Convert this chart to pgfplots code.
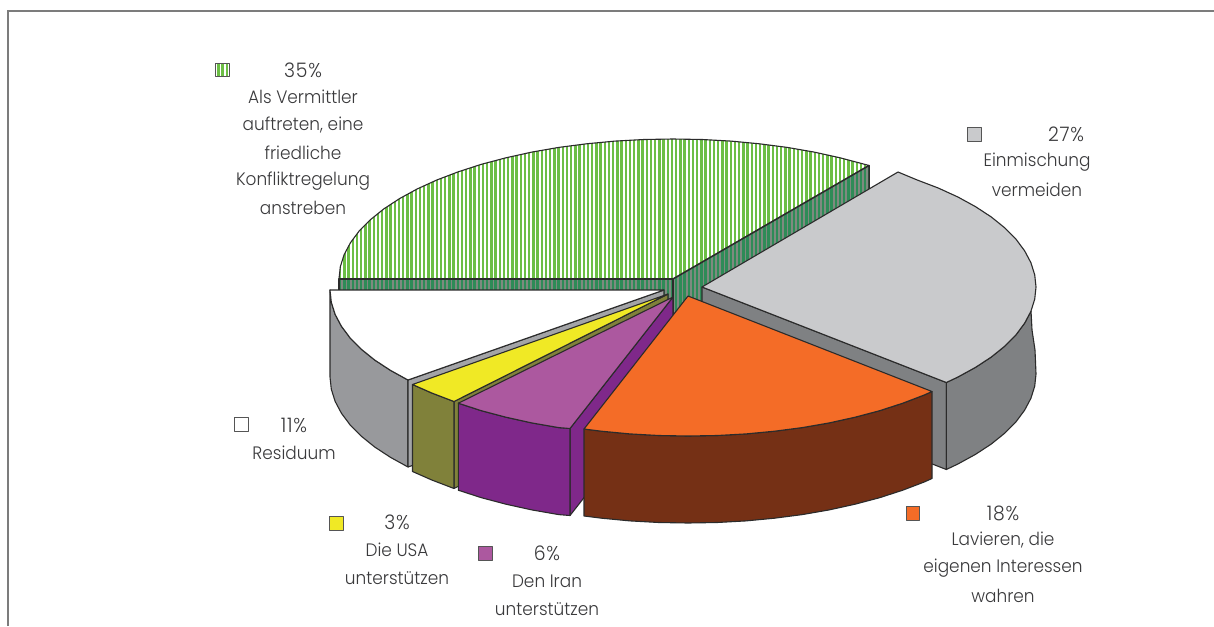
\documentclass[border=0pt]{standalone}
\usepackage{pgfplots}
\pgfplotsset{compat=1.18}
\usetikzlibrary{patterns.meta}
\usepackage{fontspec}
\setmainfont{Poppins}[UprightFont=* Light,FakeStretch=0.94]
\definecolor{edge}{HTML}{2B2B2B}
\definecolor{txt}{HTML}{3A3A3C}
\definecolor{frame}{HTML}{7C7C7C}
\definecolor{key}{HTML}{555555}
\definecolor{gtop}{HTML}{C9CACC}
\definecolor{gside}{HTML}{7F8183}
\definecolor{wside}{HTML}{98999C}
\definecolor{wwall}{HTML}{A3A4A7}
\definecolor{otop}{HTML}{F46C27}
\definecolor{oside}{HTML}{753015}
\definecolor{ptop}{HTML}{AC589F}
\definecolor{pside}{HTML}{7F288A}
\definecolor{ytop}{HTML}{F0E925}
\definecolor{yside}{HTML}{80813A}
\definecolor{grn}{HTML}{6CBE45}
\definecolor{dgrn}{HTML}{2E8B57}
\definecolor{dgrnb}{HTML}{7F8A80}
\tikzset{
 lab/.style={font=\fontsize{18}{20}\selectfont,text=txt,inner sep=0pt,anchor=center},
 pct/.style={font=\fontsize{20}{22}\selectfont\addfontfeature{LetterSpace=4},text=txt,inner sep=0pt,anchor=center},
 grnpat/.style={pattern={Lines[angle=90,distance=4.2pt,line width=2.4pt]},pattern color=grn},
 dgrnpat/.style={pattern={Lines[angle=90,distance=4.2pt,line width=2.3pt]},pattern color=dgrn}
}
\begin{document}
\begin{tikzpicture}
\begin{axis}[
  scale only axis,width=1214pt,height=626pt,
  xmin=0,xmax=1214,ymin=0,ymax=626,y dir=reverse,
  hide axis,no markers,
  every axis plot/.append style={line width=1.1pt,line join=round,draw=edge,solid},
]
% page extent
\addplot[fill=white,draw=none] coordinates {(0,0)(1214,0)(1214,626)(0,626)} -- cycle;
% frame
\addplot[draw=frame,line width=2pt,line join=miter] coordinates {(8,626)(8,11)(1214,11)};
% green top
\addplot[fill=white,draw=none] coordinates {(339,279)(340.3,266.8)(344.1,254.7)(350.4,242.8)(359.1,231.1)(370.3,219.8)(383.7,209)(399.4,198.7)(417.1,189)(436.8,180)(458.3,171.8)(481.4,164.3)(506,157.8)(531.8,152.1)(558.8,147.4)(586.6,143.8)(615,141.1)(643.9,139.5)(673,139)(702.1,139.5)(731,141.1)(759.4,143.8)(787.2,147.4)(814.2,152.1)(840,157.8)(864.6,164.3)(869,165.5)(673,279)} -- cycle;
\addplot[grnpat,draw=edge] coordinates {(339,279)(340.3,266.8)(344.1,254.7)(350.4,242.8)(359.1,231.1)(370.3,219.8)(383.7,209)(399.4,198.7)(417.1,189)(436.8,180)(458.3,171.8)(481.4,164.3)(506,157.8)(531.8,152.1)(558.8,147.4)(586.6,143.8)(615,141.1)(643.9,139.5)(673,139)(702.1,139.5)(731,141.1)(759.4,143.8)(787.2,147.4)(814.2,152.1)(840,157.8)(864.6,164.3)(869,165.5)(673,279)} -- cycle;
% green walls
\addplot[fill=dgrnb,draw=none] coordinates {(339,279)(673,279)(673,366)(339,366)} -- cycle;
\addplot[dgrnpat,draw=edge,line width=1.5pt] coordinates {(339,279)(673,279)(673,366)(339,366)} -- cycle;
\addplot[fill=dgrnb,draw=none] coordinates {(673,279)(869,165.5)(869,252.5)(673,366)} -- cycle;
\addplot[dgrnpat,draw=edge,line width=1.5pt] coordinates {(673,279)(869,165.5)(869,252.5)(673,366)} -- cycle;
% white slice (Residuum)
\addplot[fill=wside] coordinates {(330,290)(331.3,302.2)(335.1,314.3)(341.4,326.2)(350.1,337.9)(361.3,349.2)(374.7,360)(390.4,370.3)(408,380)(408,467)(390.4,457.3)(374.7,447)(361.3,436.2)(350.1,424.9)(341.4,413.2)(335.1,401.3)(331.3,389.2)(330,377)} -- cycle;
\addplot[fill=wwall] coordinates {(664,290)(408,380)(408,467)(664,377)} -- cycle;
\addplot[fill=white] coordinates {(664,290)(330,290)(331.3,302.2)(335.1,314.3)(341.4,326.2)(350.1,337.9)(361.3,349.2)(374.7,360)(390.4,370.3)(408,380)} -- cycle;
% yellow slice
\addplot[fill=yside] coordinates {(668,294)(454,401.5)(454,488.5)(668,381)} -- cycle;
\addplot[fill=yside] coordinates {(412.5,384.5)(431.8,393)(454,401.5)(454,488.5)(431.8,480)(412.5,471.5)} -- cycle;
\addplot[fill=ytop] coordinates {(668,294)(412.5,384.5)(431.8,393)(454,401.5)} -- cycle;
% purple slice
\addplot[fill=pside] coordinates {(673,297)(570,428.5)(570,515.5)(673,384)} -- cycle;
\addplot[fill=pside] coordinates {(570,428.5)(558.8,427.6)(531.8,422.9)(506,417.2)(481.4,410.7)(458.3,403.2)(458.3,490.2)(481.4,497.7)(506,504.2)(531.8,509.9)(558.8,514.6)(570,515.5)} -- cycle;
\addplot[fill=ptop] coordinates {(673,297)(570,428.5)(558.8,427.6)(531.8,422.9)(506,417.2)(481.4,410.7)(458.3,403.2)} -- cycle;
% grey slice
\addplot[fill=gside] coordinates {(702,287)(946.3,382.5)(946.3,469.5)(702,374)} -- cycle;
\addplot[fill=gside] coordinates {(946.3,382.5)(957.9,377)(975.6,367.3)(991.3,357)(1004.7,346.2)(1015.9,334.9)(1024.6,323.2)(1031,311)(1032,330)(1035,350)(1036,374)(1034.7,386.2)(1030.9,398.3)(1024.6,410.2)(1015.9,421.9)(1004.7,433.2)(991.3,444)(975.6,454.3)(957.9,464)(946.3,469.5)} -- cycle;
\addplot[fill=gtop] coordinates {(702,287)(898,172)(916.7,179.8)(938.2,188)(957.9,197)(975.6,206.7)(991.3,217)(1004.7,227.8)(1015.9,239.1)(1024.6,250.8)(1030.9,262.7)(1034.7,274.8)(1036,287)(1034.7,299.2)(1030.9,311.3)(1024.6,323.2)(1015.9,334.9)(1004.7,346.2)(991.3,357)(975.6,367.3)(957.9,377)(946.3,382.5)} -- cycle;
% orange slice
\addplot[fill=oside] coordinates {(932,391.5)(924.2,395)(902.7,403.2)(879.6,410.7)(855,417.2)(829.2,422.9)(802.2,427.6)(774.4,431.2)(746,433.9)(717.1,435.5)(688,436)(658.9,435.5)(630,433.9)(601.6,431.2)(584,429)(584,516)(601.6,518.2)(630,520.9)(658.9,522.5)(688,523)(717.1,522.5)(746,520.9)(774.4,518.2)(802.2,514.6)(829.2,509.9)(855,504.2)(879.6,497.7)(902.7,490.2)(924.2,482)(932,478.5)} -- cycle;
\addplot[fill=otop] coordinates {(688,296)(932,391.5)(924.2,395)(902.7,403.2)(879.6,410.7)(855,417.2)(829.2,422.9)(802.2,427.6)(774.4,431.2)(746,433.9)(717.1,435.5)(688,436)(658.9,435.5)(630,433.9)(601.6,431.2)(584,429)} -- cycle;
% legend keys
\addplot[fill=white,draw=none] coordinates {(215,63)(229,63)(229,76.5)(215,76.5)} -- cycle;
\addplot[grnpat,draw=key,line width=.9pt] coordinates {(215,63)(229,63)(229,76.5)(215,76.5)} -- cycle;
\addplot[fill=gtop,draw=key,line width=.9pt] coordinates {(967,127)(981,127)(981,141)(967,141)} -- cycle;
\addplot[fill=otop,draw=key,line width=.9pt] coordinates {(906,506)(919.5,506)(919.5,520)(906,520)} -- cycle;
\addplot[fill=ytop,draw=key,line width=.9pt] coordinates {(329,516)(343,516)(343,530)(329,530)} -- cycle;
\addplot[fill=ptop,draw=key,line width=.9pt] coordinates {(478,546)(492,546)(492,560)(478,560)} -- cycle;
\addplot[fill=white,draw=key,line width=.9pt] coordinates {(234,417)(248,417)(248,431)(234,431)} -- cycle;
% labels
\node[pct] at (axis cs:303,70) {35\%};
\node[lab] at (axis cs:303,97) {Als Vermittler};
\node[lab] at (axis cs:303,125) {auftreten, eine};
\node[lab] at (axis cs:303,153) {friedliche};
\node[lab] at (axis cs:303,181) {Konfliktregelung};
\node[lab] at (axis cs:303,208) {anstreben};
\node[pct] at (axis cs:1066,134) {27\%};
\node[lab] at (axis cs:1037,162) {Einmischung};
\node[lab] at (axis cs:1037,190) {vermeiden};
\node[pct] at (axis cs:1003,513) {18\%};
\node[lab] at (axis cs:1003,540) {Lavieren, die};
\node[lab] at (axis cs:1003,568) {eigenen Interessen};
\node[lab] at (axis cs:1003,596) {wahren};
\node[pct] at (axis cs:294,425) {11\%};
\node[lab] at (axis cs:294,453) {Residuum};
\node[pct] at (axis cs:397,522) {3\%};
\node[lab] at (axis cs:397,550) {Die USA};
\node[lab] at (axis cs:397,578) {unterstützen};
\node[pct] at (axis cs:547,553) {6\%};
\node[lab] at (axis cs:547,581) {Den Iran};
\node[lab] at (axis cs:547,609) {unterstützen};
\end{axis}
\end{tikzpicture}
\end{document}
